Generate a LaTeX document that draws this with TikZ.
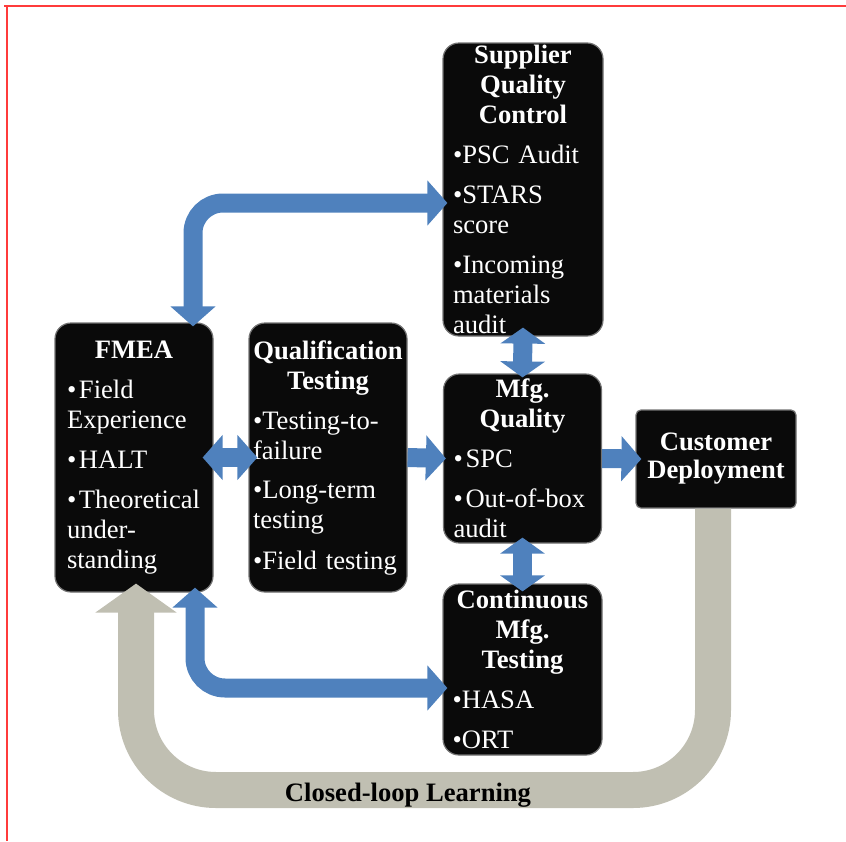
\documentclass[tikz,border=0pt]{standalone}
\usepackage{fontspec}
\setmainfont{Liberation Serif}
\usetikzlibrary{arrows.meta}
\definecolor{boxblack}{rgb}{.04,.04,.04}
\definecolor{arrowblue}{RGB}{79,129,189}
\definecolor{loopgray}{RGB}{192,191,178}
\definecolor{framered}{RGB}{255,59,59}

\newcommand\boxtitle[1]{{\centering\bfseries #1\par}}
\newcommand\hangbullet[1]{\par\vspace{5pt}{\raggedright\hangindent=6pt\hangafter=1\makebox[6pt][l]{•}#1\par}}
\newcommand\tightbullet[1]{\par\vspace{5pt}{\raggedright •#1\par}}

\begin{document}
\begin{tikzpicture}[x=0.5pt,y=-0.5pt,
    box/.style={draw=black!55, line width=0.6pt, fill=boxblack, text=white,
      rounded corners=8pt, inner ysep=0pt, font=\fontsize{13.3}{15}\selectfont},
    fat/.style={draw=arrowblue, line width=9.5pt},
    shorthead/.style={>={Triangle[width=22pt,length=8pt]}},
    >={Triangle[width=22pt,length=10pt]}]
    \useasboundingbox (0,0) rectangle (846,841);

    % the six boxes
    \node[box, text width=67pt, inner xsep=6pt, minimum height=134.5pt] (fmea) at (134,457.5) {%
      \boxtitle{FMEA}
      \hangbullet{Field\\Experience}
      \hangbullet{HALT}
      \hangbullet{Theoretical\\under-\\standing}};
    \node[box, text width=75pt, inner xsep=2pt, minimum height=134.5pt] (qual) at (328,457.5) {%
      \boxtitle{Qualification\\Testing}
      \tightbullet{Testing-to-\\failure}
      \tightbullet{Long-term\\testing}
      \tightbullet{Field testing}};
    \node[box, text width=70pt, inner xsep=5pt, minimum height=146.5pt] (sqc) at (523,189.5) {%
      \boxtitle{Supplier\\Quality\\Control}
      \tightbullet{PSC Audit}
      \tightbullet{STARS\\score}
      \tightbullet{Incoming\\materials\\audit}};
    \node[box, text width=69pt, inner xsep=5pt, minimum height=84.5pt] (mfg) at (522.5,458.5) {%
      \boxtitle{Mfg.\\Quality}
      \hangbullet{SPC}
      \hangbullet{\mbox{Out-of-box}\\audit}};
    \node[box, text width=70pt, inner xsep=4.75pt, minimum height=85.5pt] (cmt) at (522.5,669.5) {%
      \boxtitle{Continuous\\Mfg.\\Testing}
      \tightbullet{HASA}
      \tightbullet{ORT}};
    \node[box, rounded corners=2.5pt, text width=76pt, inner xsep=2pt, minimum height=49pt,
      align=center, font=\fontsize{13.3}{14}\selectfont\bfseries] (cust) at (716,459) {Customer\\Deployment};

    % blue block arrows
    \draw[fat,<->] ([xshift=-5.5pt]fmea.east) -- ([xshift=4.5pt]qual.west);
    \draw[fat,->] (qual.east) -- ([xshift=1.5pt]mfg.west);
    \draw[fat,->] (mfg.east) -- ([xshift=3pt]cust.west);
    \draw[fat,shorthead,<->] ([yshift=4.5pt]sqc.south) -- ([yshift=-2pt]mfg.north);
    \draw[fat,shorthead,<->] ([yshift=3pt]mfg.south) -- ([yshift=-4pt]cmt.north);
    \draw[fat,<->,rounded corners=15pt] ([xshift=29.5pt,yshift=-2pt]fmea.north)
        |- ([xshift=2.5pt,yshift=-6.75pt]sqc.west);
    \draw[fat,<->,rounded corners=15pt] ([xshift=30.5pt,yshift=2.5pt]fmea.south)
        |- ([xshift=2.5pt,yshift=-9.25pt]cmt.west);

    % closed loop back to FMEA
    \coordinate (LoopCorner) at (136,790);
    \draw[draw=loopgray, line width=18pt, rounded corners=40pt, -{Triangle[width=40pt,length=14.5pt]}]
        ([xshift=-1.5pt]cust.south) |- (LoopCorner) -- ([xshift=1pt,yshift=4.5pt]fmea.south);
    \node[font=\fontsize{13.3}{15}\selectfont\bfseries] (looplabel) at (408,795) {Closed-loop Learning};

    % frame
    \draw[framered, line width=1pt] (4,6) -- (846,6);
    \draw[framered, line width=1pt] (6.5,6) -- (6.5,841);
\end{tikzpicture}
\end{document}
